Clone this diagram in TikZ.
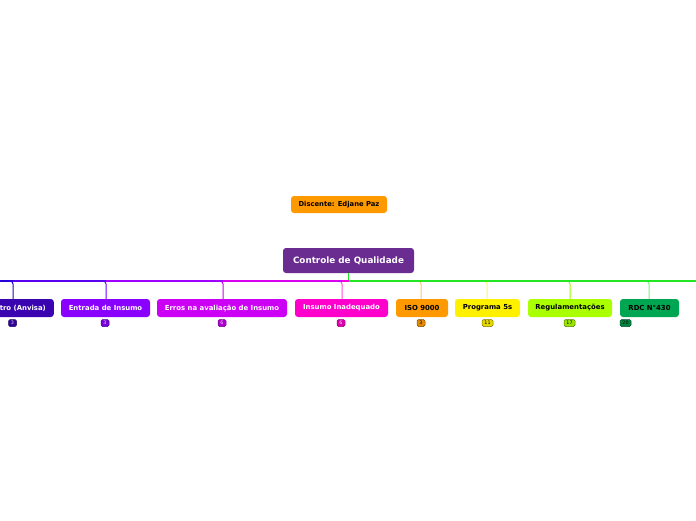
\documentclass[tikz,border=0pt]{standalone}
\usepackage{fontspec}
\setmainfont{DejaVu Sans}
\definecolor{cpurple}{HTML}{6A2C91}
\definecolor{corange}{HTML}{FF9900}
\definecolor{canvisa}{HTML}{3A05B0}
\definecolor{centrada}{HTML}{8A00FF}
\definecolor{cerros}{HTML}{CC00F5}
\definecolor{cinsumo}{HTML}{FF00CC}
\definecolor{ciso}{HTML}{FF9900}
\definecolor{cprog}{HTML}{FFF000}
\definecolor{creg}{HTML}{AAFF00}
\definecolor{crdc}{HTML}{00A651}
\definecolor{cbus}{HTML}{22E622}
\definecolor{bseg1}{HTML}{2800E0}
\definecolor{bseg2}{HTML}{5A00F0}
\definecolor{bseg3}{HTML}{A000FF}
\definecolor{bseg4}{HTML}{D800F0}
\definecolor{bseg5}{HTML}{F000E0}
\tikzset{
  box/.style={rounded corners=3pt, inner sep=0pt, minimum height=18pt,
    font=\fontsize{6.9}{8}\selectfont\bfseries, text=white},
  badge/.style={rounded corners=1.5pt, inner sep=0pt, minimum height=7pt,
    minimum width=8pt, font=\fontsize{4.8}{5}\selectfont, line width=0.5pt},
  branch/.style={line width=1pt, rounded corners=3pt},
  busline/.style={line width=1.2pt}
}
\begin{document}
\begin{tikzpicture}[x=1pt,y=-1pt]
\useasboundingbox[fill=white] (0,0) rectangle (696,520);
% central and note
\node[box, fill=cpurple, minimum width=131pt, minimum height=25pt,
  font=\fontsize{8.8}{10}\selectfont\bfseries] (root) at (348.5,260.5) {Controle de Qualidade};
\node[box, fill=corange, text=black, minimum width=96pt, minimum height=17pt,
  font=\fontsize{6.8}{8}\selectfont\bfseries] (note) at (339,204.5) {Discente: Edjane Paz};
% children
\node[box, fill=canvisa, minimum width=62pt, anchor=east] (c1) at (54,308) {tro (Anvisa)};
\node[box, fill=centrada, minimum width=89pt] (c2) at (105.5,308) {Entrada de Insumo};
\node[box, fill=cerros, minimum width=130pt] (c3) at (222,308) {Erros na avaliação de Insumo};
\node[box, fill=cinsumo, minimum width=93pt] (c4) at (341.5,308) {Insumo Inadequado};
\node[box, fill=ciso, text=black, minimum width=52pt] (c5) at (422,308) {ISO 9000};
\node[box, fill=cprog, text=black, minimum width=65pt] (c6) at (487.5,308) {Programa 5s};
\node[box, fill=creg, text=black, minimum width=84pt] (c7) at (570,308) {Regulamentações};
\node[box, fill=crdc, text=black, minimum width=59pt] (c8) at (649.5,308) {RDC N°430};
% badges
\node[badge, fill=canvisa!85!black, draw=canvisa!60!black, text=white!80!canvisa] (n1) at (12.5,323) {3};
\node[badge, fill=centrada!85!black, draw=centrada!60!black, text=white!80!centrada] (n2) at (105,323) {3};
\node[badge, fill=cerros!85!black, draw=cerros!60!black, text=white!80!cerros] (n3) at (222,323) {6};
\node[badge, fill=cinsumo!85!black, draw=cinsumo!60!black, text=white!80!cinsumo] (n4) at (341,323) {6};
\node[badge, fill=ciso!90!black, draw=ciso!50!black, text=black] (n5) at (421,323) {3};
\node[badge, fill=cprog!90!black, draw=cprog!50!black, text=black, minimum width=11pt] (n6) at (487.5,323) {11};
\node[badge, fill=creg!90!black, draw=creg!50!black, text=black, minimum width=11pt] (n7) at (569.5,323) {17};
\node[badge, fill=crdc!80!black, draw=crdc!50!black, text=black, minimum width=11pt] (n8) at (625.5,323) {20};
% bus coordinates
\coordinate (bL) at (0,281);
\coordinate (b1) at (13,281);
\coordinate (b2) at (106,281);
\coordinate (b3) at (223,281);
\coordinate (b4) at (342,281);
\coordinate (bc) at (348.5,281);
\coordinate (b5) at (421,281);
\coordinate (b6) at (487,281);
\coordinate (b7) at (570,281);
\coordinate (b8) at (649,281);
\coordinate (bR) at (696,281);
% branches
\draw[branch, draw=canvisa!70!blue] ([xshift=-4pt]b1) -- (b1) -- (b1 |- c1.north);
\draw[branch, draw=centrada!80!blue] ([xshift=-4pt]b2) -- (b2) -- (c2.north -| b2);
\draw[branch, draw=cerros] ([xshift=-4pt]b3) -- (b3) -- (c3.north -| b3);
\draw[branch, draw=cinsumo!70!white] ([xshift=-4pt]b4) -- (b4) -- (c4.north -| b4);
\draw[branch, draw=ciso!55!white] ([xshift=-4pt]b5) -- (b5) -- (c5.north -| b5);
\draw[branch, draw=cprog!60!white] ([xshift=-4pt]b6) -- (b6) -- (c6.north -| b6);
\draw[branch, draw=creg!85!cbus] ([xshift=-4pt]b7) -- (b7) -- (c7.north -| b7);
\draw[branch, draw=cbus!60!white] ([xshift=-4pt]b8) -- (b8) -- (c8.north -| b8);
% bus
\draw[busline, draw=cbus] (root.south) -- (bc);
\draw[busline, draw=bseg1] (bL) -- (b1);
\draw[busline, draw=bseg2] (b1) -- (b2);
\draw[busline, draw=bseg3] (b2) -- (b3);
\draw[busline, draw=bseg4] (b3) -- (b4);
\draw[busline, draw=bseg5] (b4) -- (bc);
\draw[busline, draw=cbus] (bc) -- (bR);
\end{tikzpicture}
\end{document}
